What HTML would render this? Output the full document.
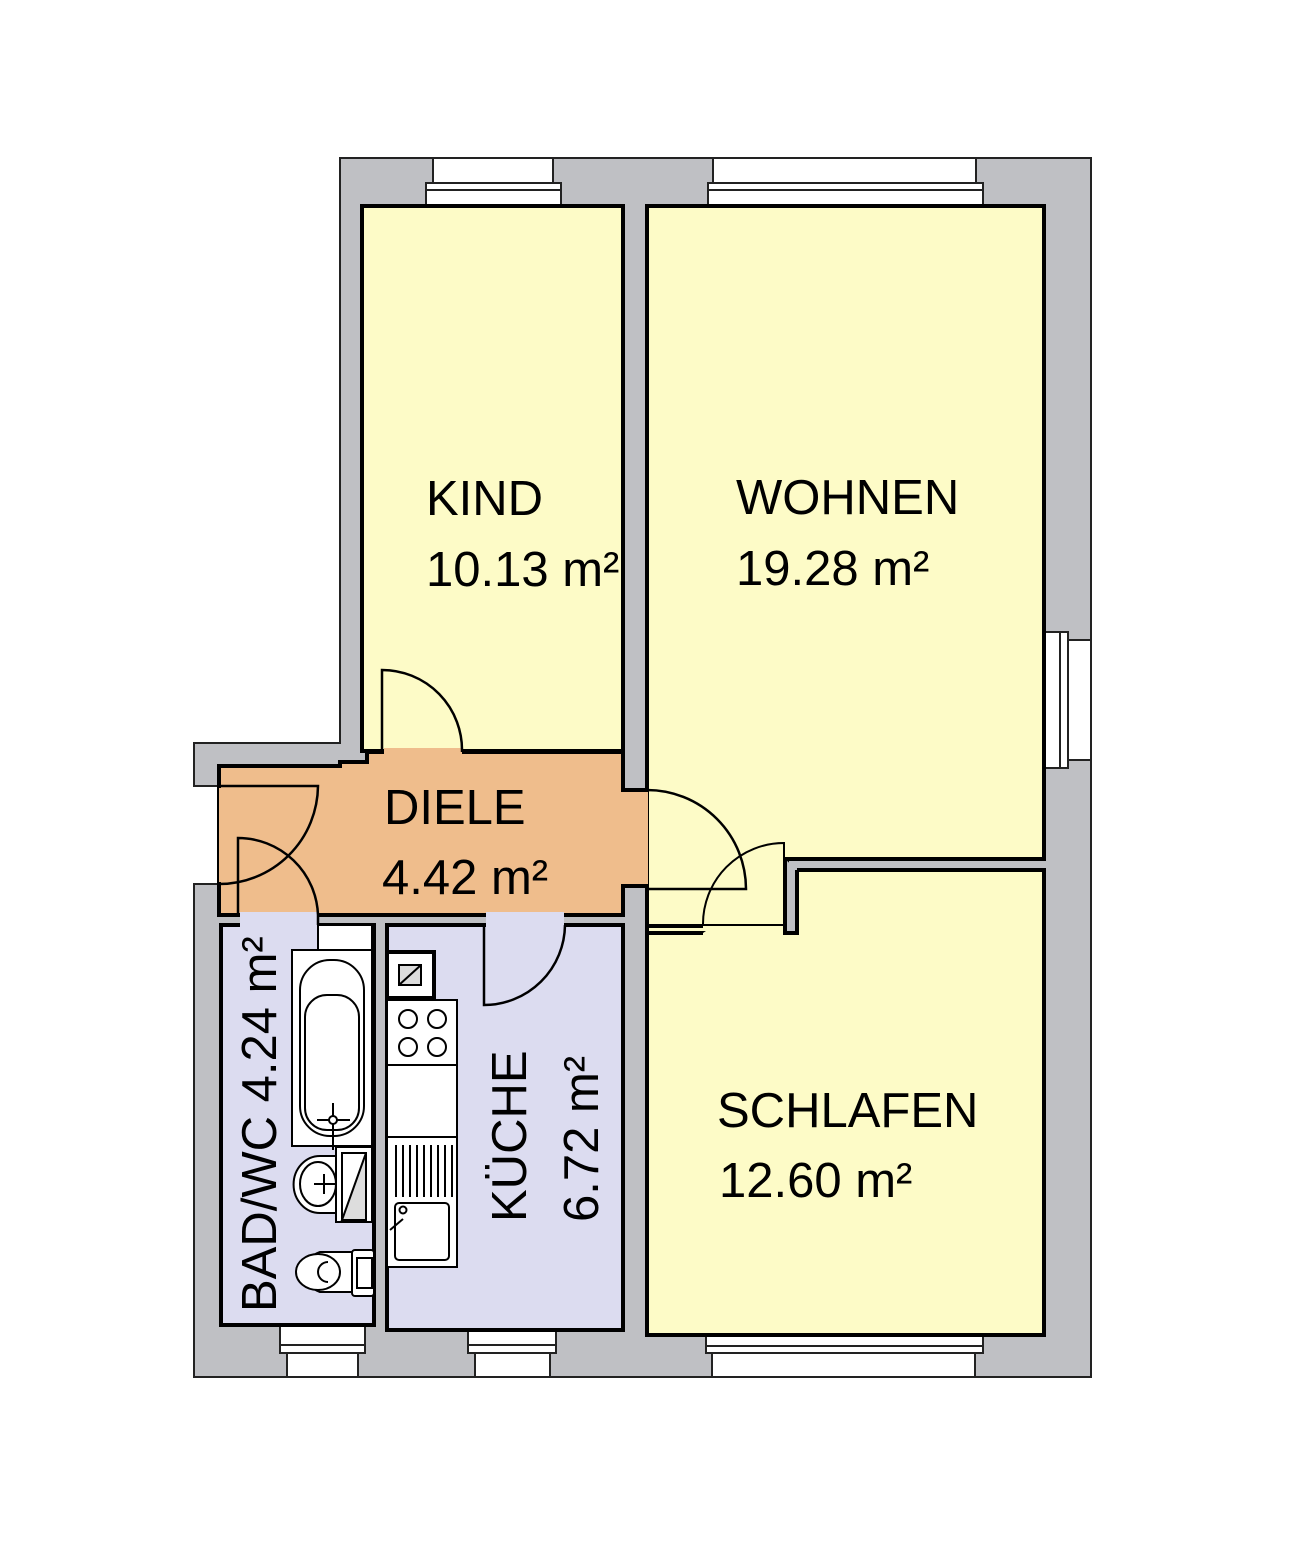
<!DOCTYPE html>
<html><head><meta charset="utf-8"><style>html,body{margin:0;padding:0;background:#fff}svg{display:block}</style></head>
<body>
<svg width="1297" height="1552" viewBox="0 0 1297 1552" xmlns="http://www.w3.org/2000/svg" font-family="Liberation Sans, sans-serif">
<path d="M340,158 H1091 V1377 H194 V884 H219 V786 H194 V743 H340 Z" fill="#bfc0c4" stroke="#222" stroke-width="2"/>
<g fill="#fff" stroke="#222" stroke-width="2">
<rect x="433" y="158" width="120" height="25"/>
<rect x="426" y="183" width="135" height="24"/>
<line x1="426" y1="190" x2="561" y2="190"/>
<rect x="713" y="158" width="263" height="25"/>
<rect x="708" y="183" width="275" height="24"/>
<line x1="708" y1="190" x2="983" y2="190"/>
<rect x="1068" y="640" width="23" height="120"/>
<rect x="1044" y="632" width="24" height="136"/>
<line x1="1060" y1="632" x2="1060" y2="768"/>
<rect x="712" y="1353" width="263" height="24"/>
<rect x="706" y="1334" width="277" height="19"/>
<line x1="706" y1="1346" x2="983" y2="1346"/>
<rect x="287" y="1353" width="71" height="24"/>
<rect x="280" y="1325" width="85" height="28"/>
<line x1="280" y1="1345" x2="365" y2="1345"/>
<rect x="475" y="1353" width="75" height="24"/>
<rect x="468" y="1330" width="88" height="23"/>
<line x1="468" y1="1345" x2="556" y2="1345"/>
</g>
<g stroke="#000" stroke-width="4">
<rect x="362" y="206" width="261" height="545" fill="#fdfbc7"/>
<path d="M647,206 H1044 V859 H787 V933 H647 Z" fill="#fdfbc7"/>
<path d="M797,870 H1044 V1335 H647 V933 H703 M783,933 H797 Z" fill="#fdfbc7"/>
<path d="M219,766 H340 V762 H367 V752 H623 V790 H647 V886 H623 V915 H219 Z" fill="#efbd8c"/>
<rect x="221" y="925" width="153" height="400" fill="#dcdcf0"/>
<rect x="387" y="925" width="236" height="405" fill="#dcdcf0"/>
</g>
<rect x="649" y="790" width="136" height="136" fill="#fdfbc7"/>
<path d="M647,926 H703" stroke="#000" stroke-width="4"/>
<path d="M785,859 V933 H797 V870" fill="#bfc0c4" stroke="#000" stroke-width="4"/>
<rect x="384" y="748" width="78" height="18" fill="#efbd8c"/>
<rect x="240" y="912" width="78" height="15" fill="#dcdcf0"/>
<rect x="486" y="912" width="78" height="15" fill="#dcdcf0"/>
<rect x="621" y="792" width="27" height="92" fill="#efbd8c"/>
<rect x="219" y="788" width="4" height="94" fill="#efbd8c"/>
<g fill="none" stroke="#000" stroke-width="2.5">
<path d="M382,752 V670 A80,80 0 0 1 462,752"/>
<path d="M219,786 H318 A99,99 0 0 1 219,884"/>
<path d="M238,915 V838 A80,80 0 0 1 318,915 V925"/>
<path d="M484,925 V1005 A81,81 0 0 0 565,925"/>
<path d="M647,889 H746 A99,99 0 0 0 647,790"/>
<path d="M784,925 V843 A81,81 0 0 0 703,925 H784" stroke-width="2"/>
</g>
<g fill="#fff" stroke="#000" stroke-width="2">
<rect x="318" y="925" width="54" height="25"/>
<rect x="292" y="950" width="80" height="196"/>
<rect x="300" y="960" width="64" height="176" rx="30"/>
<rect x="305" y="995" width="54" height="135" rx="22"/>
<line x1="333" y1="1103" x2="333" y2="1150"/><line x1="317" y1="1120" x2="350" y2="1120"/>
<circle cx="333" cy="1120" r="4"/>
<path d="M336,1156 H320 A26,28 0 0 0 320,1213 H336 Z"/>
<ellipse cx="318" cy="1184" rx="18" ry="22"/>
<line x1="314" y1="1184" x2="336" y2="1184"/><line x1="324" y1="1174" x2="324" y2="1194"/>
<rect x="336" y="1147" width="36" height="75"/>
<path d="M342,1220 L366,1153 V1220 Z" fill="#ddd"/>
<rect x="342" y="1153" width="24" height="67" fill="none"/>
<rect x="352" y="1250" width="22" height="46" rx="3"/>
<rect x="357" y="1258" width="15" height="30"/>
<path d="M352,1252 H320 A28,22 0 0 0 320,1292 H352 Z"/>
<ellipse cx="318" cy="1272" rx="22" ry="18"/>
<path d="M328,1262 A8,8 0 0 0 328,1282" />
<rect x="387" y="952" width="47" height="46" stroke-width="4"/>
<rect x="399" y="965" width="22" height="20" fill="#ddd"/>
<line x1="399" y1="985" x2="421" y2="965"/>
<rect x="387" y="1000" width="70" height="65"/>
<circle cx="408" cy="1019" r="9"/><circle cx="437" cy="1019" r="9"/>
<circle cx="408" cy="1047" r="9"/><circle cx="437" cy="1047" r="9"/>
<rect x="387" y="1065" width="70" height="72"/>
<rect x="387" y="1137" width="70" height="130"/>
<rect x="395" y="1203" width="54" height="57" rx="4"/>
<circle cx="403" cy="1210" r="3.5"/>
<line x1="390" y1="1230" x2="403" y2="1219"/>
</g>
<g stroke="#000" stroke-width="2">
<line x1="396" y1="1145" x2="396" y2="1197"/><line x1="403" y1="1145" x2="403" y2="1197"/>
<line x1="410" y1="1145" x2="410" y2="1197"/><line x1="417" y1="1145" x2="417" y2="1197"/>
<line x1="424" y1="1145" x2="424" y2="1197"/><line x1="431" y1="1145" x2="431" y2="1197"/>
<line x1="438" y1="1145" x2="438" y2="1197"/><line x1="445" y1="1145" x2="445" y2="1197"/>
<line x1="452" y1="1145" x2="452" y2="1197"/>
</g>
<g font-size="49" fill="#000">
<text x="426" y="515">KIND</text>
<text x="426" y="586">10.13 m²</text>
<text x="736" y="514">WOHNEN</text>
<text x="736" y="585">19.28 m²</text>
<text x="384" y="824">DIELE</text>
<text x="382" y="894">4.42 m²</text>
<text x="717" y="1127">SCHLAFEN</text>
<text x="719" y="1197">12.60 m²</text>
<text transform="translate(276,1312) rotate(-90)">BAD/WC 4.24 m²</text>
<text transform="translate(526,1222) rotate(-90)">KÜCHE</text>
<text transform="translate(598,1222) rotate(-90)">6.72 m²</text>
</g>
</svg>
</body></html>
